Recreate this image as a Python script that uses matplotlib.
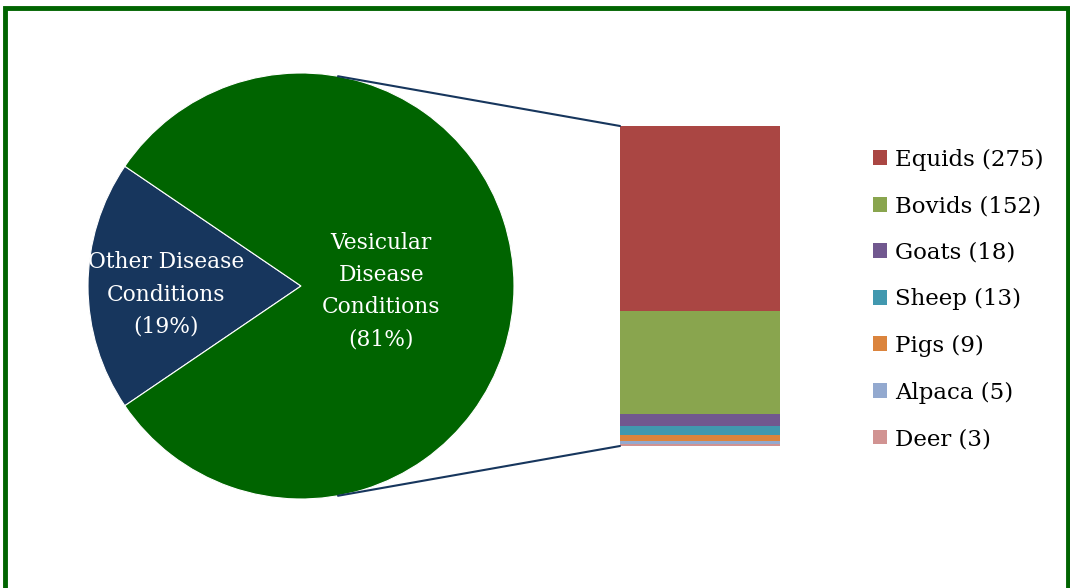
import numpy as np
import matplotlib.pyplot as plt
from matplotlib.patches import ConnectionPatch, Rectangle

pie_labels = ["Other Disease\nConditions\n(19%)", "Vesicular\nDisease\nConditions\n(81%)"]
pie_values = [19, 81]
pie_colors = ["#17365D", "#006400"]

species = ["Equids", "Bovids", "Goats", "Sheep", "Pigs", "Alpaca", "Deer"]
counts = [275, 152, 18, 13, 9, 5, 3]
bar_colors = ["#AA4643", "#89A54E", "#71588F", "#4198AF", "#DB843D", "#93A9CF", "#D19392"]

plt.rcParams["font.family"] = ["DejaVu Serif"]

fig = plt.figure(figsize=(10.7, 5.88), dpi=100)

# pie on the left
ax_pie = fig.add_axes([88 / 1070, 1 - 499 / 588, 426 / 1070, 426 / 588])
start = 180 - pie_values[0] * 3.6 / 2
wedges, _ = ax_pie.pie(pie_values, colors=pie_colors, startangle=start,
                       counterclock=True, radius=1,
                       wedgeprops=dict(edgecolor="white", linewidth=0.8))
ax_pie.set_xlim(-1, 1)
ax_pie.set_ylim(-1, 1)
ax_pie.set_aspect("equal")
ax_pie.axis("off")

ax_pie.text(-0.634, -0.04, pie_labels[0], color="white", ha="center", va="center",
            fontsize=15.7, linespacing=1.6)
ax_pie.text(0.376, -0.025, pie_labels[1], color="white", ha="center", va="center",
            fontsize=15.7, linespacing=1.6)

# stacked bar of the vesicular conditions
ax_bar = fig.add_axes([620 / 1070, 1 - 446 / 588, 160 / 1070, 320 / 588])
total = sum(counts)
bottom = total
handles = []
for name, c, col in zip(species, counts, bar_colors):
    bottom -= c
    h = ax_bar.bar(0, c, bottom=bottom, width=1, color=col, label=f"{name} ({c})")
    handles.append(h)
ax_bar.set_xlim(-0.5, 0.5)
ax_bar.set_ylim(0, total)
ax_bar.axis("off")

# connector lines
ang = np.deg2rad(80)
for sign, ybar in [(1, total), (-1, 0)]:
    con = ConnectionPatch(xyA=(np.cos(ang), sign * np.sin(ang)), coordsA=ax_pie.transData,
                          xyB=(-0.5, ybar), coordsB=ax_bar.transData,
                          color="#17365D", linewidth=1.5)
    fig.add_artist(con)

leg = fig.legend(handles=handles, loc="upper left",
                 bbox_to_anchor=(852 / 1070, 1 - 128 / 588), frameon=False,
                 fontsize=16.5, handlelength=0.62, handleheight=0.62,
                 handletextpad=0.35, labelspacing=1.07)

# green frame
fig.add_artist(Rectangle((5 / 1070, -0.01), 1063 / 1070, 1 - 8 / 588 + 0.01,
                         transform=fig.transFigure, fill=False,
                         edgecolor="#006400", linewidth=3.5))

fig.savefig("out.png", dpi=100)
